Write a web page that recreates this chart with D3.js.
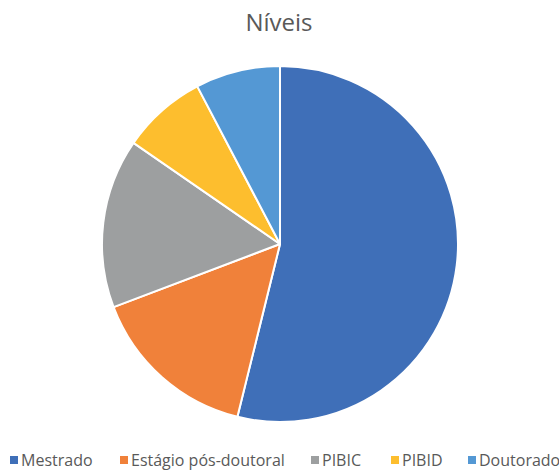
<!DOCTYPE html>
<html><head><meta charset="utf-8">
<script src="https://cdn.jsdelivr.net/npm/d3@7"></script>
<style>body{margin:0;background:#fff}svg{display:block}</style>
</head><body>
<svg id="c" width="559" height="471"></svg>
<script>
const categories = ["Mestrado","Estágio pós-doutoral","PIBIC","PIBID","Doutorado"];
const values = [7,2,2,1,1];
const colors = ["#3F6FB8","#F0813A","#9D9FA0","#FDBE2E","#5498D4"];
const title = "Níveis";
const legendX = [10,120,311,391,468];

const svg = d3.select("#c");
const font = "'Open Sans', Lato, sans-serif";
svg.append("text").attr("x",279).attr("y",31).attr("text-anchor","middle")
  .attr("font-family",font).attr("font-size",24).attr("fill","#595959").text(title);

const cx=280, cy=244, r=178;
const pie = d3.pie().sort(null).value(d=>d)(values);
const arc = d3.arc().innerRadius(0).outerRadius(r);
const g = svg.append("g").attr("transform",`translate(${cx},${cy})`);
g.selectAll("path").data(pie).join("path")
  .attr("d",arc).attr("fill",(d,i)=>colors[i])
  .attr("stroke","#fff").attr("stroke-width",2).attr("stroke-linejoin","round");

const leg = svg.append("g");
categories.forEach((c,i)=>{
  leg.append("rect").attr("x",legendX[i]).attr("y",456).attr("width",8).attr("height",8).attr("fill",colors[i]);
  leg.append("text").attr("x",legendX[i]+11).attr("y",466).attr("font-family",font)
    .attr("font-size",16).attr("fill","#595959").text(c);
});
</script>
</body></html>
